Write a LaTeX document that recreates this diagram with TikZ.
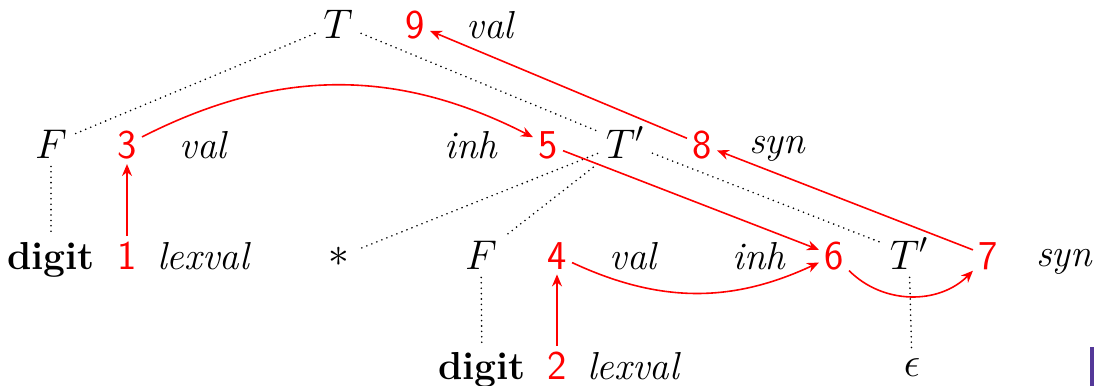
\documentclass[tikz,border=0pt]{standalone}
\usepackage{amsmath}
\usetikzlibrary{arrows.meta, positioning}
\definecolor{slidepurple}{RGB}{84,56,152}

\begin{document}
\begin{tikzpicture}[
    x=0.5pt, y=-0.5pt,
    every node/.style={font=\fontsize{19.5}{22}\selectfont},
    sym/.style={anchor=base, inner sep=4pt},
    num/.style={anchor=base, inner sep=2.5pt, text=red, font=\fontsize{20.5}{22}\selectfont\sffamily},
    attr/.style={anchor=base, font=\fontsize{19.5}{22}\selectfont\itshape},
    edge/.style={line width=0.9pt, dash pattern=on 0pt off 2.7pt, line cap=round},
    dep/.style={-{Stealth[length=6pt, width=5pt]}, red, line width=0.8pt}
]
    \useasboundingbox (0,0) rectangle (1094,386);

    % parse tree
    \node[sym] (T) at (338,38) {$T$};
    \node[sym] (F1) at (51,158) {$F$};
    \node[sym] (Tp1) at (625,158) {$T'$};
    \node[sym] (digit1) at (51,269) {\textbf{digit}};
    \node[sym, anchor=center] (star) at (339,257) {$*$};
    \node[sym] (F2) at (481,269) {$F$};
    \node[sym] (Tp2) at (909,269) {$T'$};
    \node[sym] (digit2) at (482,379) {\textbf{digit}};
    \node[sym] (eps) at (912,376) {$\epsilon$};

    % attribute instances
    \node[num] (n9) at (415,38) {9};
    \node[attr] (a9) at (490,38) {val};
    \node[num] (n3) at (127,158) {3};
    \node[attr] (a3) at (203,158) {val};
    \node[attr] (a5) at (471,158) {inh};
    \node[num] (n5) at (548,158) {5};
    \node[num] (n8) at (702,158) {8};
    \node[attr] (a8) at (777,153) {syn};
    \node[num] (n1) at (127,269) {1};
    \node[attr] (a1) at (203,269) {lexval};
    \node[num] (n4) at (557,269) {4};
    \node[attr] (a4) at (633,269) {val};
    \node[attr] (a6) at (759,269) {inh};
    \node[num] (n6) at (834,269) {6};
    \node[num] (n7) at (988,269) {7};
    \node[attr] (a7) at (1064,266) {syn};
    \node[num] (n2) at (557,379) {2};
    \node[attr] (a2) at (633,379) {lexval};

    \draw[edge] (T) -- (F1);
    \draw[edge] (T) -- (Tp1);
    \draw[edge] (F1) -- (digit1);
    \draw[edge] (Tp1) -- (star);
    \draw[edge] (Tp1) -- (F2);
    \draw[edge] (Tp1) -- (Tp2);
    \draw[edge] (F2) -- (digit2);
    \draw[edge] (Tp2) -- (eps);

    % dependency graph
    \draw[dep] (n1) -- (n3);
    \draw[dep] (n2) -- (n4);
    \draw[dep] (n3) to[bend left=27] (n5);
    \draw[dep] (n5) -- (n6);
    \draw[dep] (n4) to[bend right=25] (n6);
    \draw[dep] (n6) to[bend right=45] (n7);
    \draw[dep] (n7) -- (n8);
    \draw[dep] (n8) -- (n9);

    \fill[slidepurple] (1090,347) rectangle (1094,386);
\end{tikzpicture}
\end{document}
